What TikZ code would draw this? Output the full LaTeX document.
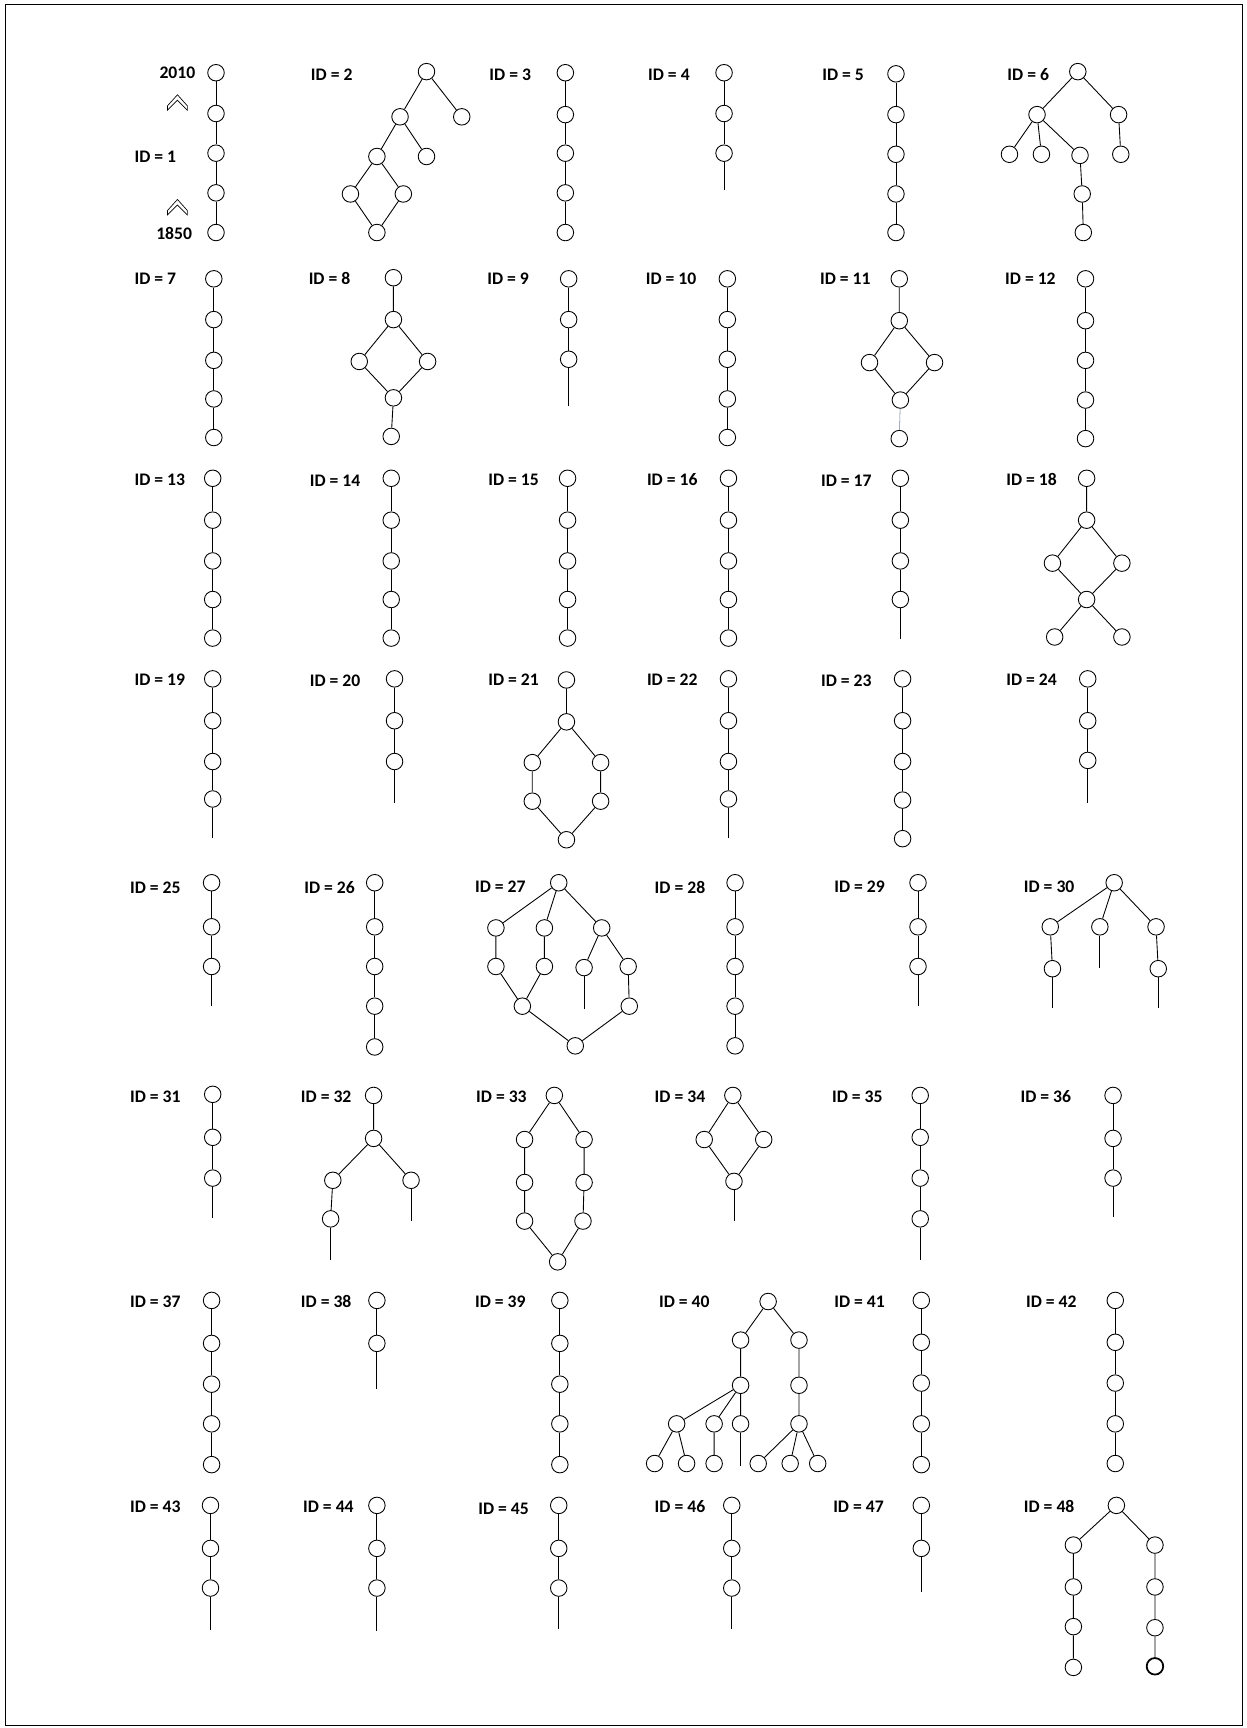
\documentclass[tikz,border=0pt]{standalone}
\usepackage{fontspec}
\setmainfont{Carlito}
\tikzset{
  circ/.style={circle, draw, minimum size=15pt, inner sep=0pt, line width=0.8pt},
  boldcirc/.style={circ, line width=1.6pt},
  edge/.style={line width=0.8pt},
  thinedge/.style={line width=0.5pt, draw={rgb,255:red,110;green,130;blue,160}},
  lbl/.style={font=\fontsize{16}{18}\selectfont\bfseries, inner sep=0pt},
  chev/.style={line width=0.6pt, line join=miter}
}
\newcommand\mkchain[3]{%
  \foreach \yy [count=\k] in {#3} {
    \node[circ] (#1-\k) at (#2,\yy) {};
    \ifnum\k>1
      \pgfmathtruncatemacro\kp{\k-1}
      \draw[edge] (#1-\kp) -- (#1-\k);
    \fi
  }}
\newcommand\tail[3]{\coordinate (#1t) at (#2,#3); \draw[edge] (#1) -- (#1t);}
\begin{document}
\begin{tikzpicture}[x=1pt,y=-1pt]
\useasboundingbox (0,0) rectangle (1131,1568);
\draw[line width=0.6pt] (5,4) rectangle (1127,1566);

% ---------- Row 1 ----------
\mkchain{a1}{196}{66,103,139,175,211}
\node[lbl] (y2010) at (161,66) {2010};
\node[lbl] (l1) at (141,142) {ID = 1};
\node[lbl] (y1850) at (158,212) {1850};
\draw[chev] (152,100) -- (152,96) -- (161,86) -- (170,96) -- (170,100) -- (161,91) -- cycle;
\draw[chev] (152,195) -- (152,191) -- (161,181) -- (170,191) -- (170,195) -- (161,186) -- cycle;

\node[lbl] (l2) at (301,68) {ID = 2};
\node[circ] (b1) at (387,65) {};
\node[circ] (b2) at (363,106) {};
\node[circ] (b3) at (419,106) {};
\node[circ] (b4) at (342,142) {};
\node[circ] (b5) at (387,142) {};
\node[circ] (b6) at (318,176) {};
\node[circ] (b7) at (366,176) {};
\node[circ] (b8) at (342,211) {};
\draw[edge] (b1)--(b2) (b1)--(b3) (b2)--(b4) (b2)--(b5) (b4)--(b6) (b4)--(b7) (b6)--(b8) (b7)--(b8);

\node[lbl] (l3) at (463,68) {ID = 3};
\mkchain{a3}{513}{66,104,139,175,211}
\node[lbl] (l4) at (607,68) {ID = 4};
\mkchain{a4}{657}{66,103,139}
\tail{a4-3}{657}{172}
\node[lbl] (l5) at (765,68) {ID = 5};
\mkchain{a5}{813}{67,104,140,176,211}

\node[lbl] (l6) at (933,68) {ID = 6};
\node[circ] (f1) at (978,65) {};
\node[circ] (f2) at (941,104) {};
\node[circ] (f3) at (1015,104) {};
\node[circ] (f4) at (916,140) {};
\node[circ] (f5) at (945,140) {};
\node[circ] (f6) at (980,141) {};
\node[circ] (f7) at (1017,140) {};
\node[circ] (f8) at (982,176) {};
\node[circ] (f9) at (983,211) {};
\draw[edge] (f1)--(f2) (f1)--(f3) (f2)--(f4) (f2)--(f5) (f2)--(f6) (f3)--(f7) (f6)--(f8) (f8)--(f9);

% ---------- Row 2 ----------
\node[lbl] (l7) at (141,253) {ID = 7};
\mkchain{a7}{194}{253,290,327,362,397}
\node[lbl] (l8) at (299,253) {ID = 8};
\node[circ] (h1) at (357,252) {};
\node[circ] (h2) at (357,290) {};
\node[circ] (h3) at (326,328) {};
\node[circ] (h4) at (388,328) {};
\node[circ] (h5) at (357,361) {};
\node[circ] (h6) at (355,396) {};
\draw[edge] (h1)--(h2) (h2)--(h3) (h2)--(h4) (h3)--(h5) (h4)--(h5) (h5)--(h6);
\node[lbl] (l9) at (461,253) {ID = 9};
\mkchain{a9}{516}{253,290,326}
\tail{a9-3}{516}{368}
\node[lbl] (l10) at (609,253) {ID = 10};
\mkchain{a10}{660}{253,290,326,362,397}
\node[lbl] (l11) at (767,253) {ID = 11};
\node[circ] (k1) at (816,253) {};
\node[circ] (k2) at (816,291) {};
\node[circ] (k3) at (789,329) {};
\node[circ] (k4) at (848,329) {};
\node[circ] (k5) at (817,363) {};
\node[circ] (k6) at (816,398) {};
\draw[edge] (k1)--(k2) (k2)--(k3) (k2)--(k4) (k3)--(k5) (k4)--(k5);
\draw[thinedge] (k5)--(k6);
\node[lbl] (l12) at (935,253) {ID = 12};
\mkchain{a12}{985}{253,291,327,363,398}

% ---------- Row 3 ----------
\node[lbl] (l13) at (145,435) {ID = 13};
\mkchain{a13}{193}{434,472,509,544,579}
\node[lbl] (l14) at (304,436) {ID = 14};
\mkchain{a14}{355}{434,472,509,544,579}
\node[lbl] (l15) at (466,435) {ID = 15};
\mkchain{a15}{515}{434,472,509,544,579}
\node[lbl] (l16) at (610,435) {ID = 16};
\mkchain{a16}{661}{434,472,509,544,579}
\node[lbl] (l17) at (768,436) {ID = 17};
\mkchain{a17}{817}{434,472,509,544}
\tail{a17-4}{817}{580}
\node[lbl] (l18) at (936,435) {ID = 18};
\node[circ] (m1) at (986,434) {};
\node[circ] (m2) at (986,472) {};
\node[circ] (m3) at (955,511) {};
\node[circ] (m4) at (1018,511) {};
\node[circ] (m5) at (986,544) {};
\node[circ] (m6) at (957,578) {};
\node[circ] (m7) at (1018,578) {};
\draw[edge] (m1)--(m2) (m2)--(m3) (m2)--(m4) (m3)--(m5) (m4)--(m5) (m5)--(m6) (m5)--(m7);

% ---------- Row 4 ----------
\node[lbl] (l19) at (145,617) {ID = 19};
\mkchain{a19}{193}{616,654,691,725}
\tail{a19-4}{193}{760}
\node[lbl] (l20) at (304,618) {ID = 20};
\mkchain{a20}{358}{616,654,691}
\tail{a20-3}{358}{729}
\node[lbl] (l21) at (466,617) {ID = 21};
\node[circ] (p1) at (514,617) {};
\node[circ] (p2) at (514,655) {};
\node[circ] (p3) at (483,692) {};
\node[circ] (p4) at (545,692) {};
\node[circ] (p5) at (483,727) {};
\node[circ] (p6) at (545,727) {};
\node[circ] (p7) at (514,762) {};
\draw[edge] (p1)--(p2) (p2)--(p3) (p2)--(p4) (p3)--(p5) (p4)--(p6) (p5)--(p7) (p6)--(p7);
\node[lbl] (l22) at (610,617) {ID = 22};
\mkchain{a22}{661}{616,654,691,725}
\tail{a22-4}{661}{760}
\node[lbl] (l23) at (768,618) {ID = 23};
\mkchain{a23}{819}{616,654,691,726,761}
\node[lbl] (l24) at (936,617) {ID = 24};
\mkchain{a24}{987}{616,654,690}
\tail{a24-3}{987}{729}

% ---------- Row 5 ----------
\node[lbl] (l25) at (141,806) {ID = 25};
\mkchain{a25}{192}{801,841,877}
\tail{a25-3}{192}{913}
\node[lbl] (l26) at (299,805) {ID = 26};
\mkchain{a26}{340}{801,841,877,913,950}
\node[lbl] (l27) at (454,805) {ID = 27};
\node[circ] (q1) at (507,801) {};
\node[circ] (q2) at (450,842) {};
\node[circ] (q3) at (494,842) {};
\node[circ] (q4) at (546,842) {};
\node[circ] (q5) at (450,877) {};
\node[circ] (q6) at (494,877) {};
\node[circ] (q7) at (530,878) {};
\node[circ] (q8) at (570,877) {};
\node[circ] (q9) at (474,913) {};
\node[circ] (q10) at (571,913) {};
\node[circ] (q11) at (522,949) {};
\draw[edge] (q1)--(q2) (q1)--(q3) (q1)--(q4) (q2)--(q5) (q3)--(q6) (q4)--(q7) (q4)--(q8)
  (q5)--(q9) (q6)--(q9) (q8)--(q10) (q9)--(q11) (q10)--(q11);
\tail{q7}{530}{916}
\node[lbl] (l28) at (617,805) {ID = 28};
\mkchain{a28}{667}{801,841,877,913,949}
\node[lbl] (l29) at (780,805) {ID = 29};
\mkchain{a29}{833}{801,841,877}
\tail{a29-3}{833}{913}
\node[lbl] (l30) at (952,805) {ID = 30};
\node[circ] (r1) at (1011,801) {};
\node[circ] (r2) at (953,841) {};
\node[circ] (r3) at (998,841) {};
\node[circ] (r4) at (1049,841) {};
\node[circ] (r5) at (955,879) {};
\node[circ] (r6) at (1051,879) {};
\draw[edge] (r1)--(r2) (r1)--(r3) (r1)--(r4) (r2)--(r5) (r4)--(r6);
\tail{r5}{955}{915}
\tail{r3}{998}{878}
\tail{r6}{1051}{915}

% ---------- Row 6 ----------
\node[lbl] (l31) at (141,995) {ID = 31};
\mkchain{a31}{193}{993,1032,1069}
\tail{a31-3}{193}{1105}
\node[lbl] (l32) at (296,995) {ID = 32};
\node[circ] (s1) at (339,994) {};
\node[circ] (s2) at (339,1033) {};
\node[circ] (s3) at (302,1071) {};
\node[circ] (s4) at (373,1071) {};
\node[circ] (s5) at (300,1106) {};
\draw[edge] (s1)--(s2) (s2)--(s3) (s2)--(s4) (s3)--(s5);
\tail{s5}{300}{1143}
\tail{s4}{373}{1108}
\node[lbl] (l33) at (455,995) {ID = 33};
\node[circ] (u1) at (503,994) {};
\node[circ] (u2) at (476,1034) {};
\node[circ] (u3) at (476,1073) {};
\node[circ] (u4) at (476,1108) {};
\node[circ] (u5) at (530,1034) {};
\node[circ] (u6) at (530,1073) {};
\node[circ] (u7) at (529,1108) {};
\node[circ] (u8) at (506,1145) {};
\draw[edge] (u1)--(u2) (u2)--(u3) (u3)--(u4) (u4)--(u8) (u1)--(u5) (u5)--(u6) (u6)--(u7) (u7)--(u8);
\node[lbl] (l34) at (617,995) {ID = 34};
\node[circ] (v1) at (665,994) {};
\node[circ] (v2) at (639,1034) {};
\node[circ] (v3) at (693,1034) {};
\node[circ] (v4) at (666,1072) {};
\draw[edge] (v1)--(v2) (v1)--(v3) (v2)--(v4) (v3)--(v4);
\tail{v4}{666}{1108}
\node[lbl] (l35) at (778,995) {ID = 35};
\mkchain{a35}{835}{994,1032,1069,1106}
\tail{a35-4}{835}{1143}
\node[lbl] (l36) at (949,995) {ID = 36};
\mkchain{a36}{1010}{994,1033,1069}
\tail{a36-3}{1010}{1104}

% ---------- Row 7 ----------
\node[lbl] (l37) at (141,1181) {ID = 37};
\mkchain{a37}{192}{1180,1219,1256,1292,1329}
\node[lbl] (l38) at (296,1181) {ID = 38};
\mkchain{a38}{342}{1180,1219}
\tail{a38-2}{342}{1260}
\node[lbl] (l39) at (454,1181) {ID = 39};
\mkchain{a39}{508}{1180,1219,1256,1292,1329}
\node[lbl] (l40) at (621,1181) {ID = 40};
\node[circ] (w1) at (697,1181) {};
\node[circ] (w2) at (672,1216) {};
\node[circ] (w3) at (725,1216) {};
\node[circ] (w4) at (672,1257) {};
\node[circ] (w5) at (725,1257) {};
\node[circ] (w6) at (614,1292) {};
\node[circ] (w7) at (648,1292) {};
\node[circ] (w8) at (672,1292) {};
\node[circ] (w9) at (725,1292) {};
\node[circ] (w10) at (594,1328) {};
\node[circ] (w11) at (623,1328) {};
\node[circ] (w12) at (648,1328) {};
\node[circ] (w13) at (688,1328) {};
\node[circ] (w14) at (717,1328) {};
\node[circ] (w15) at (742,1328) {};
\draw[edge] (w1)--(w2) (w1)--(w3) (w2)--(w4) (w3)--(w5) (w4)--(w6) (w4)--(w7) (w4)--(w8) (w5)--(w9)
  (w6)--(w10) (w6)--(w11) (w7)--(w12) (w9)--(w13) (w9)--(w14) (w9)--(w15);
\tail{w8}{672}{1330}
\node[lbl] (l41) at (780,1181) {ID = 41};
\mkchain{a41}{836}{1180,1218,1255,1292,1329}
\node[lbl] (l42) at (954,1181) {ID = 42};
\mkchain{a42}{1012}{1180,1218,1255,1292,1328}

% ---------- Row 8 ----------
\node[lbl] (l43) at (141,1367) {ID = 43};
\mkchain{a43}{191}{1366,1405,1441}
\tail{a43-3}{191}{1479}
\node[lbl] (l44) at (298,1367) {ID = 44};
\mkchain{a44}{342}{1366,1405,1441}
\tail{a44-3}{342}{1480}
\node[lbl] (l45) at (457,1369) {ID = 45};
\mkchain{a45}{507}{1366,1405,1441}
\tail{a45-3}{507}{1478}
\node[lbl] (l46) at (617,1367) {ID = 46};
\mkchain{a46}{664}{1366,1405,1441}
\tail{a46-3}{664}{1478}
\node[lbl] (l47) at (779,1367) {ID = 47};
\mkchain{a47}{836}{1366,1405}
\tail{a47-2}{836}{1445}
\node[lbl] (l48) at (952,1367) {ID = 48};
\node[circ] (z1) at (1013,1366) {};
\node[circ] (z2) at (974,1402) {};
\node[circ] (z3) at (1048,1402) {};
\node[circ] (z4) at (974,1440) {};
\node[circ] (z5) at (974,1476) {};
\node[circ] (z6) at (974,1513) {};
\node[circ] (z7) at (1048,1440) {};
\node[circ] (z8) at (1048,1477) {};
\node[boldcirc] (z9) at (1048,1512) {};
\draw[edge] (z1)--(z2) (z1)--(z3) (z2)--(z4) (z4)--(z5) (z5)--(z6) (z3)--(z7) (z7)--(z8) (z8)--(z9);
\end{tikzpicture}
\end{document}
